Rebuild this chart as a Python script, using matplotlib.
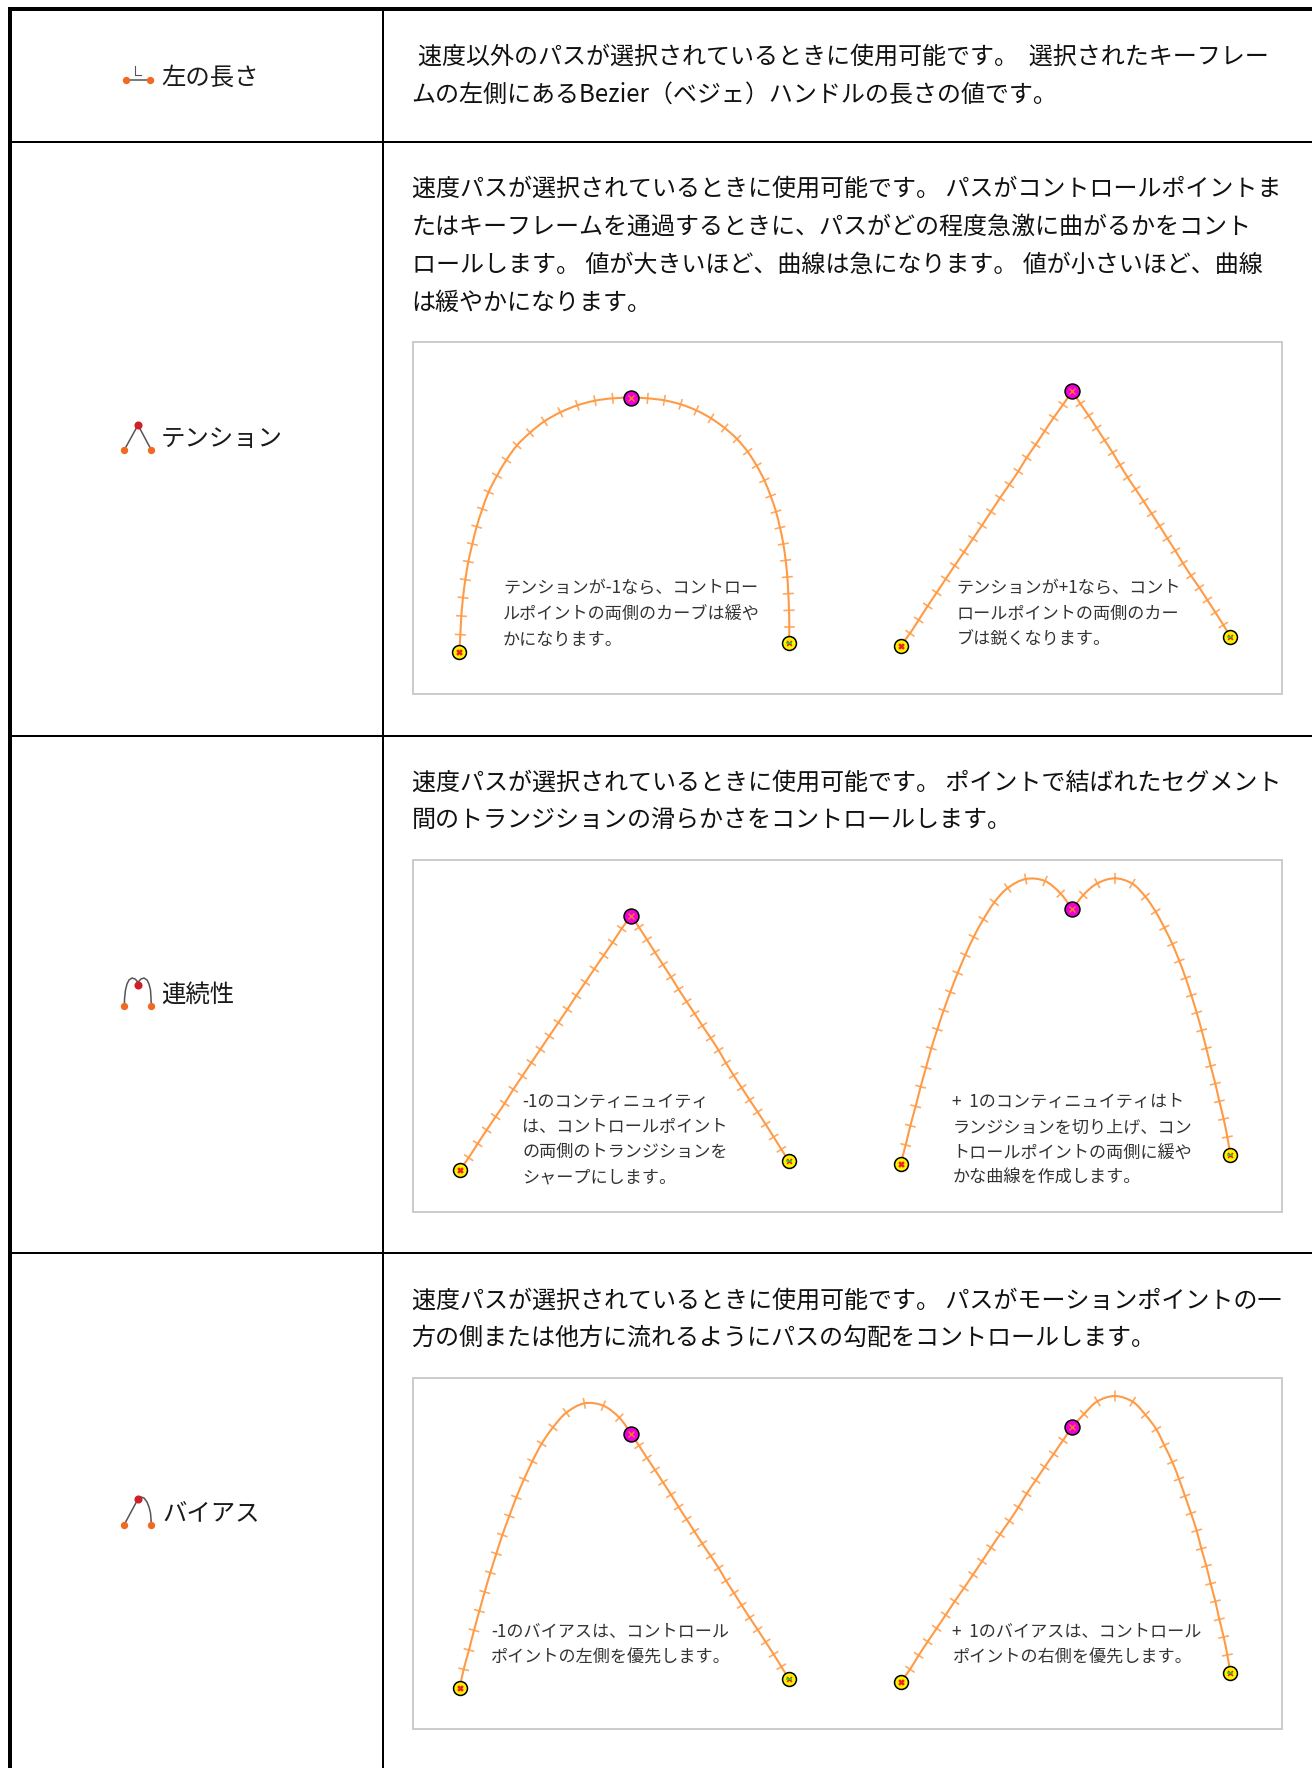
import numpy as np
import matplotlib
matplotlib.use('Agg')
import matplotlib.pyplot as plt
from matplotlib.patches import Rectangle, PathPatch
from matplotlib.path import Path

plt.rcParams['font.family'] = ['Noto Sans CJK JP', 'DejaVu Sans']

W, H = 1312, 1768

# row labels and body text
row_labels = ['左の長さ', 'テンション', '連続性', 'バイアス']
body_left_length = ['速度以外のパスが選択されているときに使用可能です。  選択されたキーフレー',
                    'ムの左側にあるBezier（ベジェ）ハンドルの長さの値です。']
body_tension = ['速度パスが選択されているときに使用可能です。 パスがコントロールポイントま',
                'たはキーフレームを通過するときに、パスがどの程度急激に曲がるかをコント',
                'ロールします。 値が大きいほど、曲線は急になります。 値が小さいほど、曲線',
                'は緩やかになります。']
body_continuity = ['速度パスが選択されているときに使用可能です。 ポイントで結ばれたセグメント',
                   '間のトランジションの滑らかさをコントロールします。']
body_bias = ['速度パスが選択されているときに使用可能です。 パスがモーションポイントの一',
             '方の側または他方に流れるようにパスの勾配をコントロールします。']

cap_tension_a = ['テンションが-1なら、コントロー', 'ルポイントの両側のカーブは緩や', 'かになります。']
cap_tension_b = ['テンションが+1なら、コント', 'ロールポイントの両側のカー', 'ブは鋭くなります。']
cap_cont_a = ['-1のコンティニュイティ', 'は、コントロールポイント', 'の両側のトランジションを', 'シャープにします。']
cap_cont_b = ['+  1のコンティニュイティはト', 'ランジションを切り上げ、コン', 'トロールポイントの両側に緩や', 'かな曲線を作成します。']
cap_bias_a = ['-1のバイアスは、コントロール', 'ポイントの左側を優先します。']
cap_bias_b = ['+  1のバイアスは、コントロール', 'ポイントの右側を優先します。']

tension_a_x = [178, 181, 184, 189, 196, 205, 217, 230, 247, 266, 291, 319, 351, 390, 433, 481, 532, 585, 638, 694,
               743, 793, 842, 889, 933, 974, 1011, 1043, 1070, 1093, 1112, 1128, 1140, 1150, 1157, 1162, 1165, 1167, 1168, 1167]
tension_a_y = [937, 884, 828, 773, 719, 665, 612, 560, 507, 456, 407, 360, 316, 278, 244, 217, 196, 182, 175, 173,
               175, 181, 193, 211, 235, 264, 297, 335, 377, 421, 468, 515, 563, 612, 661, 711, 761, 811, 860, 910]
tension_b_x = [62, 90, 116, 143, 170, 197, 224, 252, 279, 306, 333, 360, 388, 415, 440, 467, 494, 521, 549, 577,
               601, 626, 650, 674, 698, 720, 743, 767, 791, 815, 839, 862, 886, 909, 933, 958, 982, 1006, 1030, 1051]
tension_b_y = [827, 790, 750, 708, 668, 627, 587, 546, 506, 466, 425, 384, 344, 304, 263, 224, 183, 143, 104, 63,
               101, 137, 174, 211, 248, 285, 322, 358, 394, 431, 468, 505, 542, 580, 617, 653, 690, 727, 765, 800]
cont_a_x = [59, 86, 113, 140, 167, 194, 220, 247, 274, 301, 328, 355, 382, 409, 436, 463, 491, 518, 545, 573,
            597, 621, 645, 669, 693, 716, 740, 764, 787, 812, 836, 858, 881, 905, 929, 953, 977, 1001, 1024, 1047]
cont_a_y = [841, 803, 761, 720, 680, 640, 598, 558, 518, 478, 438, 398, 358, 317, 277, 237, 196, 157, 116, 77,
            112, 149, 187, 224, 261, 298, 335, 371, 407, 444, 481, 519, 556, 593, 630, 666, 703, 741, 778, 814]
cont_b_x = [62, 77, 91, 107, 122, 138, 154, 172, 191, 211, 233, 256, 281, 310, 343, 383, 437, 495, 542, 577,
            610, 652, 705, 757, 796, 827, 853, 877, 898, 917, 934, 950, 965, 979, 992, 1006, 1018, 1031, 1042, 1051]
cont_b_y = [911, 855, 797, 739, 680, 623, 565, 508, 451, 396, 339, 285, 231, 178, 127, 84, 57, 63, 101, 148,
            105, 70, 55, 71, 110, 155, 203, 252, 303, 354, 406, 458, 511, 565, 618, 671, 724, 777, 831, 884]
bias_a_x = [59, 71, 87, 102, 118, 134, 151, 169, 187, 208, 229, 252, 277, 305, 339, 379, 433, 490, 538, 573,
            597, 621, 645, 669, 693, 716, 740, 763, 787, 812, 836, 858, 882, 905, 929, 953, 977, 1001, 1024, 1047]
bias_a_y = [910, 853, 795, 736, 678, 621, 563, 506, 450, 393, 337, 283, 229, 176, 127, 83, 55, 62, 98, 146,
            182, 219, 255, 292, 329, 366, 403, 439, 476, 513, 549, 587, 624, 661, 698, 734, 771, 808, 845, 883]
bias_b_x = [62, 90, 116, 143, 170, 197, 224, 252, 279, 306, 333, 360, 388, 415, 440, 467, 494, 521, 549, 577,
            612, 652, 705, 758, 796, 829, 853, 877, 897, 915, 933, 950, 964, 979, 992, 1006, 1018, 1031, 1042, 1051]
bias_b_y = [891, 853, 811, 770, 730, 690, 649, 609, 569, 529, 488, 448, 408, 367, 326, 286, 246, 207, 166, 127,
            87, 49, 33, 50, 89, 133, 181, 231, 282, 333, 385, 437, 491, 543, 596, 649, 703, 756, 810, 863]

# small icons in the left column
icon_cont_x = [124.3, 124.6, 125.5, 127, 129, 132, 135, 137, 138, 139, 141, 144, 147, 149, 150.5, 151, 151.3]
icon_cont_y = [1006, 998, 990, 984, 980, 978, 979, 981, 985, 981, 979, 978, 980, 984, 990, 998, 1006]
icon_bias_x = [138, 141, 144, 147, 149, 150.5, 151, 151.3]
icon_bias_y = [1499, 1497, 1498, 1502, 1507, 1513, 1519, 1524.5]

fig = plt.figure(figsize=(W / 100, H / 100), dpi=100, facecolor='white')
ax = fig.add_axes([0, 0, 1, 1])
ax.set_xlim(0, W)
ax.set_ylim(H, 0)
ax.axis('off')

px = 0.72  # one pixel in points

# table lines
ax.plot([10, 10], [7, H], color='black', lw=4 * px, solid_capstyle='butt')
ax.plot([8, W], [9, 9], color='black', lw=4 * px, solid_capstyle='butt')
ax.plot([383, 383], [9, H], color='black', lw=2 * px, solid_capstyle='butt')
for y in [142, 735.5, 1252.5]:
    ax.plot([10, W], [y, y], color='black', lw=2 * px, solid_capstyle='butt')

# picture frames
for top, bottom in [(341.5, 694), (860, 1212), (1378, 1729)]:
    ax.add_patch(Rectangle((413, top), 868.5, bottom - top, fc='white', ec='#cccccc', lw=2 * px))


def put_lines(lines, x, ys, size, color):
    for line, y in zip(lines, ys):
        ax.text(x, y + 0.36 * size / px, line, fontsize=size, color=color, va='baseline', ha='left')


body = 17.32
put_lines(body_left_length[:1], 417.5, [55], body, '#111111')
put_lines(body_left_length[1:], 411.5, [93.5], body, '#111111')
put_lines(body_tension, 411.5, [187, 225, 263, 301], body, '#111111')
put_lines(body_continuity, 411.5, [781, 819], body, '#111111')
put_lines(body_bias, 411.5, [1298.5, 1336.5], body, '#111111')

cap = 12.3
put_lines(cap_tension_a, 503, [587.5, 612.5, 638.5], cap, '#333333')
put_lines(cap_tension_b, 956.5, [587.5, 612.5, 639], cap, '#333333')
put_lines(cap_cont_a, 522, [1100.5, 1126, 1151, 1176.5], cap, '#333333')
put_lines(cap_cont_b, 952.5, [1100.5, 1126, 1151.5, 1177], cap, '#333333')
put_lines(cap_bias_a, 491, [1630, 1656], cap, '#333333')
put_lines(cap_bias_b, 952.5, [1630, 1656], cap, '#333333')

# left column labels
for label, x, y in zip(row_labels, [161, 161, 161, 162], [76, 437.5, 993, 1511]):
    ax.text(x, y + 0.36 * 17.6 / px, label, fontsize=17.6, color='#1a1a1a', va='baseline', ha='left')

gray = '#555555'
orange = '#f26a21'
red = '#cf2027'
ax.plot([126, 150], [80, 80], color=gray, lw=1.1)
ax.plot([134.5, 134.5, 141], [66, 75, 75], color=gray, lw=0.8)
ax.plot([124.3, 138, 151.3], [450, 425, 450], color=gray, lw=1.1)
ax.plot(icon_cont_x, icon_cont_y, color=gray, lw=1.1)
ax.plot([124.3, 138], [1524.5, 1499], color=gray, lw=1.1)
ax.plot(icon_bias_x, icon_bias_y, color=gray, lw=1.1)
ax.scatter([126, 150, 124.3, 151.3, 124.3, 151.3, 124.3, 151.3],
           [80, 80, 450, 450, 1006, 1006, 1524.5, 1524.5], s=28, color=orange, zorder=3, lw=0)
ax.scatter([138, 138, 138], [425, 985, 1499], s=34, color=red, zorder=3, lw=0)


def smooth_path(xs, ys, mid, sharp):
    # bezier through the read points, so the curve has no corners between them
    pts = np.column_stack([xs, ys])
    tan = np.gradient(pts, axis=0)
    verts = [pts[0]]
    codes = [Path.MOVETO]
    for i in range(len(pts) - 1):
        t0 = tan[i]
        t1 = tan[i + 1]
        if sharp and i == mid:
            t0 = pts[i + 1] - pts[i]
        if sharp and i + 1 == mid:
            t1 = pts[i + 1] - pts[i]
        verts += [pts[i] + t0 / 3, pts[i + 1] - t1 / 3, pts[i + 1]]
        codes += [Path.CURVE4, Path.CURVE4, Path.CURVE4]
    return Path(verts, codes)


def draw_curve(crop, xs, ys, sharp=False):
    # crop = left, top, width, height of the 3x crop the values were read from
    left, top, w, h = crop
    sub = fig.add_axes([left / W, 1 - (top + h) / H, w / W, h / H])
    sub.set_xlim(0, w * 3)
    sub.set_ylim(h * 3, 0)
    sub.axis('off')
    sub.patch.set_alpha(0)
    xs = np.array(xs, dtype=float)
    ys = np.array(ys, dtype=float)
    line = '#ff9a45'
    mid = len(xs) // 2 - 1
    sub.add_patch(PathPatch(smooth_path(xs, ys, mid, sharp), fc='none', ec=line, lw=1.5, zorder=2))
    dx = np.gradient(xs)
    dy = np.gradient(ys)
    n = np.hypot(dx, dy)
    half = 14
    for i in range(1, len(xs) - 1):
        if i == mid:
            continue
        nx, ny = -dy[i] / n[i] * half, dx[i] / n[i] * half
        sub.plot([xs[i] - nx, xs[i] + nx], [ys[i] - ny, ys[i] + ny], color=line, lw=1.2, alpha=0.85, zorder=2)
    sub.scatter(xs[[0, -1]], ys[[0, -1]], s=100, color='#fff200', edgecolors='black', linewidths=1.1, zorder=3)
    sub.scatter(xs[mid], ys[mid], s=115, color='#f000d8', edgecolors='black', linewidths=1.1, zorder=3)
    sub.scatter(xs[mid], ys[mid], s=18, marker='x', color='#ff7a20', linewidths=1.0, zorder=4)
    sub.scatter(xs[0], ys[0], s=12, marker='x', color='#f02020', linewidths=1.8, zorder=4)
    sub.scatter(xs[-1], ys[-1], s=12, marker='x', color='#f02020', linewidths=1.2, zorder=4)
    sub.scatter(xs[-1], ys[-1], s=24, marker='_', color='#30d030', linewidths=1.2, zorder=5)


draw_curve((400, 340, 420, 370), tension_a_x, tension_a_y)
draw_curve((880, 370, 370, 300), tension_b_x, tension_b_y, sharp=True)
draw_curve((440, 890, 370, 300), cont_a_x, cont_a_y, sharp=True)
draw_curve((880, 860, 432, 360), cont_b_x, cont_b_y, sharp=True)
draw_curve((440, 1385, 370, 320), bias_a_x, bias_a_y)
draw_curve((880, 1385, 370, 320), bias_b_x, bias_b_y)

fig.savefig('out.png', dpi=100, facecolor='white')
